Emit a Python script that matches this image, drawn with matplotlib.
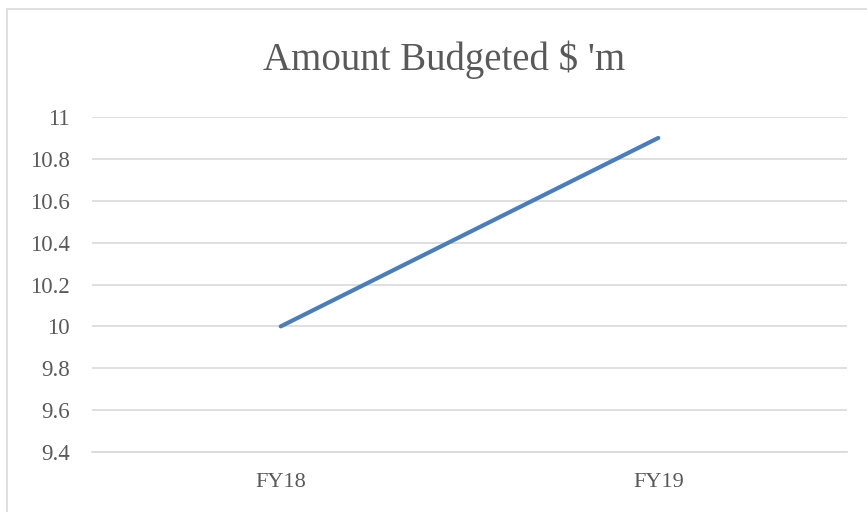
import matplotlib.pyplot as plt
from matplotlib.patches import Rectangle

# data
categories = ['FY18', 'FY19']
amounts = [10.0, 10.9]
yticks = [9.4, 9.6, 9.8, 10, 10.2, 10.4, 10.6, 10.8, 11]
ytick_labels = ['9.4', '9.6', '9.8', '10', '10.2', '10.4', '10.6', '10.8', '11']

txt = '#595959'
grid = '#d9d9d9'
serif = ['Liberation Serif', 'DejaVu Serif']

fig = plt.figure(figsize=(8.67, 5.12), dpi=100)
# chart frame
fig.patches.append(Rectangle((7/867, -0.1), 1.1, 1 - 9/512 + 0.1, transform=fig.transFigure,
                             fill=False, edgecolor=grid, linewidth=1.2))

ax = fig.add_axes([92/867, 1 - 452/512, 755/867, 335/512])
x = range(len(categories))
ax.plot(x, amounts, color='#4a7ebb', linewidth=3.0, solid_capstyle='round')

ax.set_xlim(-0.5, len(categories) - 0.5)
ax.set_ylim(9.4, 11)
ax.set_yticks(yticks)
ax.set_yticklabels(ytick_labels, family=serif, fontsize=16.5, color=txt)
ax.set_xticks(list(x))
ax.set_xticklabels(categories, family=serif, fontsize=16, color=txt)
ax.tick_params(length=0, axis='y', pad=16)
ax.tick_params(length=0, axis='x', pad=15)

ax.grid(axis='y', color=grid, linewidth=1.2)
ax.set_axisbelow(True)
for s in ['top', 'right', 'left']:
    ax.spines[s].set_visible(False)
ax.spines['bottom'].set_color(grid)
ax.spines['bottom'].set_linewidth(1.2)

fig.text(444/867, 1 - 60/512, "Amount Budgeted $ 'm", ha='center', va='center',
         family=serif, fontsize=28, color=txt)

fig.savefig('out.png', dpi=100)
